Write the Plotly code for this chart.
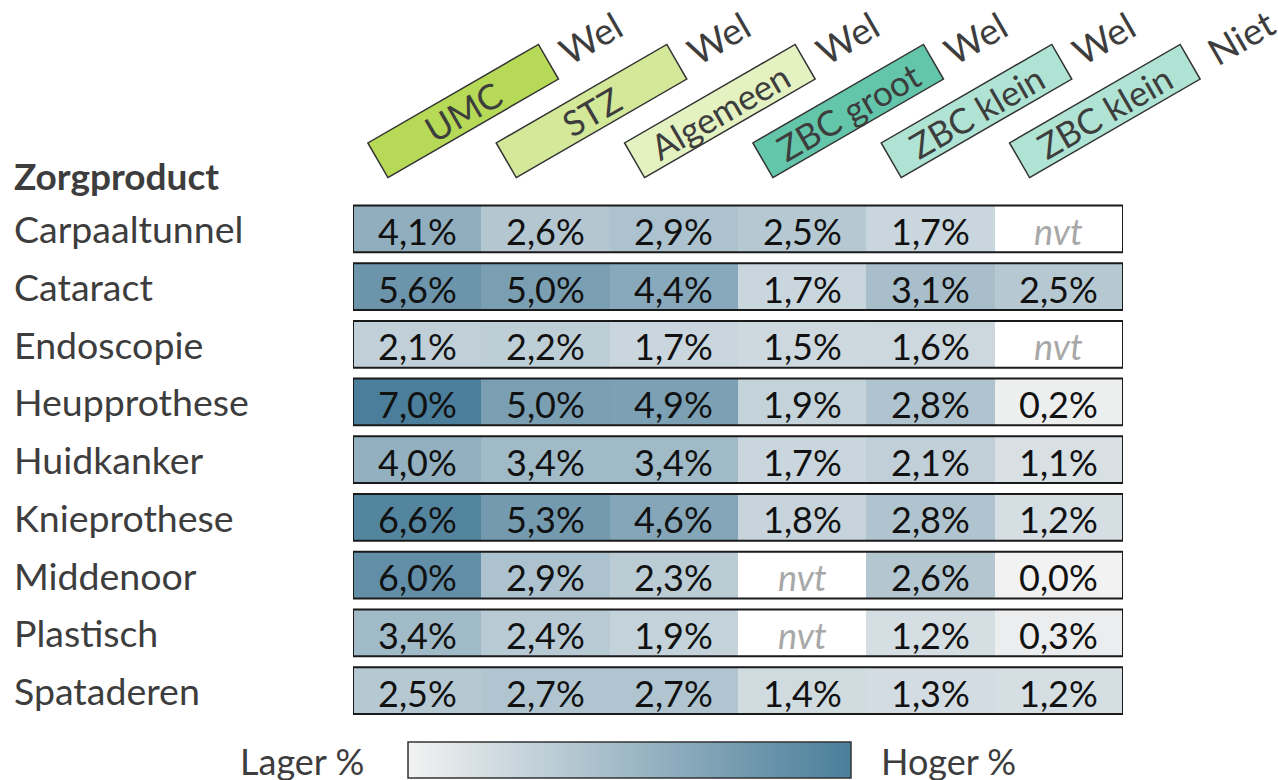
import math
import plotly.graph_objects as go

# ---------------- data ----------------
products = ["Carpaaltunnel", "Cataract", "Endoscopie", "Heupprothese", "Huidkanker",
            "Knieprothese", "Middenoor", "Plastisch", "Spataderen"]
col_labels = ["UMC", "STZ", "Algemeen", "ZBC groot", "ZBC klein", "ZBC klein"]
col_sub = ["Wel", "Wel", "Wel", "Wel", "Wel", "Niet"]
col_colors = ["#b6d957", "#d3e899", "#e4f2c2", "#63c6aa", "#afe3d3", "#afe3d3"]

umc = [4.1, 5.6, 2.1, 7.0, 4.0, 6.6, 6.0, 3.4, 2.5]
stz = [2.6, 5.0, 2.2, 5.0, 3.4, 5.3, 2.9, 2.4, 2.7]
algemeen = [2.9, 4.4, 1.7, 4.9, 3.4, 4.6, 2.3, 1.9, 2.7]
zbc_groot = [2.5, 1.7, 1.5, 1.9, 1.7, 1.8, None, None, 1.4]
zbc_klein_wel = [1.7, 3.1, 1.6, 2.8, 2.1, 2.8, 2.6, 1.2, 1.3]
zbc_klein_niet = [None, 2.5, None, 0.2, 1.1, 1.2, 0.0, 0.3, 1.2]

columns = [umc, stz, algemeen, zbc_groot, zbc_klein_wel, zbc_klein_niet]
scale_min, scale_max = 0.0, 7.0
colorscale = [[0, "#f2f2f2"], [1, "#4a7e9a"]]

# ---------------- layout geometry (pixels) ----------------
FW, FH = 1278, 780
GX0, GX1 = 353, 1123          # grid left/right
GY0, GY1 = 200, 719.4         # grid top/bottom (row pitch ~57.7)
LX0, LX1, LY0, LY1 = 408, 851, 742, 778   # legend bar

def pxx(px):
    return px / FW

def pxy(py):
    return 1 - py / FH

nrows, ncols = len(products), len(columns)
z = [[columns[c][r] for c in range(ncols)] for r in range(nrows)]

FONT = "Lato"
TXT = "#3d3d3d"

fig = go.Figure()
fig.add_trace(go.Heatmap(
    z=z, x=list(range(ncols)), y=list(range(nrows)),
    zmin=scale_min, zmax=scale_max, colorscale=colorscale,
    ygap=11, xgap=0, hoverinfo="skip", showscale=False,
))

# legend gradient bar (low -> high of the colour scale)
fig.add_trace(go.Heatmap(z=[[scale_min, scale_max]], x=[0, 1], y=[0], zsmooth="best",
                         zmin=scale_min, zmax=scale_max, colorscale=colorscale,
                         showscale=False, hoverinfo="skip", xaxis="x2", yaxis="y2"))

annotations = []
# value labels
for r in range(nrows):
    for c in range(ncols):
        v = columns[c][r]
        if v is None:
            txt, col = "<i>nvt</i>", "#a8a8a8"
        else:
            txt, col = f"{v:.1f}%".replace(".", ","), "#111111"
        annotations.append(dict(x=c, y=r, xref="x", yref="y", text=txt, showarrow=False,
                                xanchor="center", yanchor="middle", yshift=-2,
                                font=dict(family=FONT, size=36, color=col)))

shapes = []
# row borders
for r in range(nrows):
    shapes.append(dict(type="rect", xref="x", yref="y", x0=-0.5, x1=ncols - 0.5,
                       y0=r - 0.405, y1=r + 0.405, line=dict(color="#1a1a1a", width=2),
                       fillcolor="rgba(0,0,0,0)", layer="above"))
# legend border
shapes.append(dict(type="rect", xref="paper", yref="paper", x0=pxx(LX0), x1=pxx(LX1),
                   y0=pxy(LY1), y1=pxy(LY0), line=dict(color="#333333", width=1.5),
                   fillcolor="rgba(0,0,0,0)", layer="above"))

# rotated header boxes
ang = math.radians(30)
ux, uy = math.cos(ang), math.sin(ang)
vx_, vy_ = -math.sin(ang), math.cos(ang)
BL, BWID = 197, 40
CX, CY = 46, 89  # box centre relative to column centre / grid top (pixels, up positive)
colw = (GX1 - GX0) / ncols
for c in range(ncols):
    ccx = GX0 + colw * (c + 0.5)
    pts = []
    for a, b in [(-1, -1), (1, -1), (1, 1), (-1, 1)]:
        px = CX + a * BL / 2 * ux + b * BWID / 2 * vx_
        py = CY + a * BL / 2 * uy + b * BWID / 2 * vy_
        pts.append((px, py))
    path = "M " + " L ".join(f"{p[0]:.1f},{p[1]:.1f}" for p in pts) + " Z"
    shapes.append(dict(type="path", xref="paper", yref="paper", xsizemode="pixel",
                       ysizemode="pixel", xanchor=pxx(ccx), yanchor=pxy(GY0), path=path,
                       fillcolor=col_colors[c], line=dict(color="#333333", width=1.5),
                       layer="above"))
    annotations.append(dict(x=pxx(ccx + CX), y=pxy(GY0 - CY), xref="paper", yref="paper",
                            text=col_labels[c], textangle=-30, showarrow=False,
                            xanchor="center", yanchor="middle",
                            font=dict(family=FONT, size=35, color=TXT)))
    d, p = (147, 0) if col_sub[c] == "Wel" else (155, -4)
    annotations.append(dict(x=pxx(ccx + CX + d * ux + p * vx_),
                            y=pxy(GY0 - CY - d * uy - p * vy_),
                            xref="paper", yref="paper",
                            text=col_sub[c], textangle=-30, showarrow=False,
                            xanchor="center", yanchor="middle",
                            font=dict(family=FONT, size=37, color=TXT)))

# row labels
for r, name in enumerate(products):
    annotations.append(dict(x=pxx(12), y=r, xref="paper", yref="y", text=name,
                            showarrow=False, xanchor="left", yanchor="middle",
                            font=dict(family=FONT, size=37.5, color=TXT)))
annotations.append(dict(x=pxx(12), y=pxy(176), xref="paper", yref="paper",
                        text="<b>Zorgproduct</b>", showarrow=False, xanchor="left",
                        yanchor="middle", font=dict(family=FONT, size=37, color=TXT)))
# legend labels
annotations.append(dict(x=pxx(366), y=pxy(761), xref="paper", yref="paper", text="Lager %",
                        showarrow=False, xanchor="right", yanchor="middle",
                        font=dict(family=FONT, size=36, color=TXT)))
annotations.append(dict(x=pxx(879), y=pxy(761), xref="paper", yref="paper", text="Hoger %",
                        showarrow=False, xanchor="left", yanchor="middle",
                        font=dict(family=FONT, size=36, color=TXT)))

fig.update_layout(
    width=FW, height=FH, margin=dict(l=0, r=0, t=0, b=0, pad=0),
    paper_bgcolor="white", plot_bgcolor="white", showlegend=False,
    xaxis=dict(domain=[pxx(GX0), pxx(GX1)], range=[-0.5, ncols - 0.5], visible=False,
               fixedrange=True),
    yaxis=dict(domain=[pxy(GY1), pxy(GY0)], range=[nrows - 0.5, -0.5], visible=False,
               fixedrange=True),
    xaxis2=dict(domain=[pxx(LX0), pxx(LX1)], range=[0, 1], visible=False, fixedrange=True,
                anchor="y2"),
    yaxis2=dict(domain=[pxy(LY1), pxy(LY0)], range=[-0.5, 0.5], visible=False,
                fixedrange=True, anchor="x2"),
    shapes=shapes, annotations=annotations,
)
fig.write_html("out.html", config={"displayModeBar": False},
               post_script="document.body.style.margin='0';")
